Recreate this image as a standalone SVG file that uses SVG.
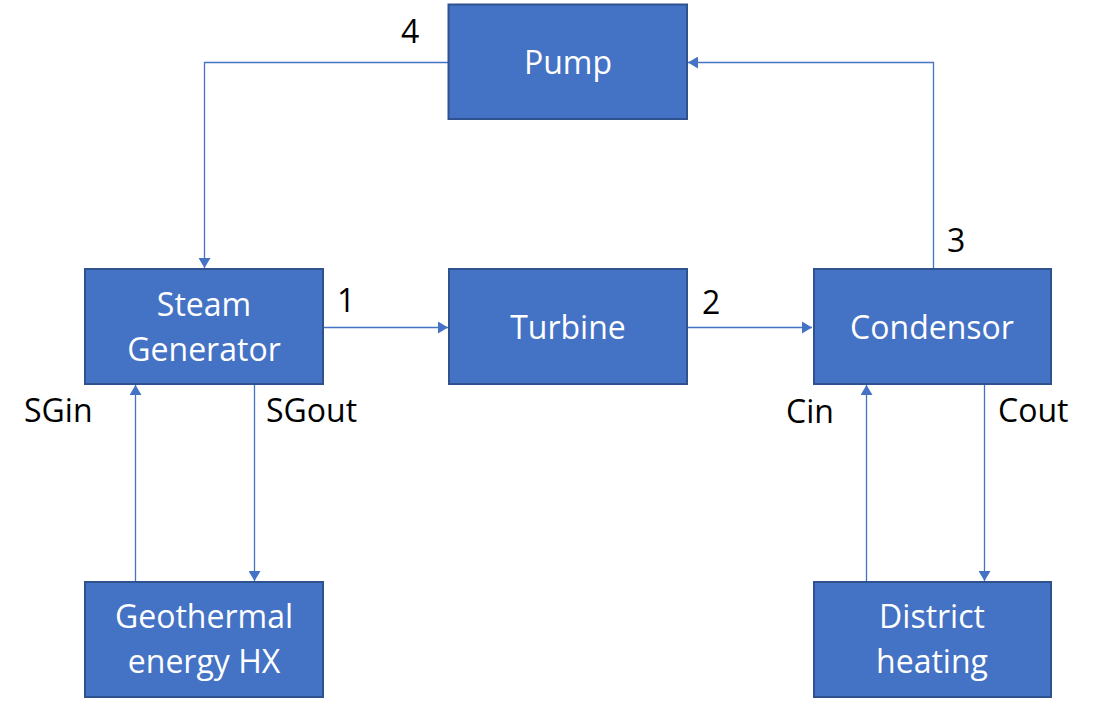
<svg xmlns="http://www.w3.org/2000/svg" width="1104" height="707" viewBox="0 0 1104 707">
<style>
.node rect{fill:#4472C4;stroke:#2F528F;stroke-width:2}
.node text{fill:#ffffff;font-family:"Open Sans","Noto Sans",sans-serif;font-size:32px;text-anchor:middle}
.lbl{fill:#000000;font-family:"Open Sans","Noto Sans",sans-serif;font-size:32px}
.conn path{fill:none;stroke:#4472C4;stroke-width:1.3;marker-end:url(#arr)}
</style>
<defs>
<marker id="arr" markerUnits="userSpaceOnUse" markerWidth="10" markerHeight="12" refX="10" refY="6" orient="auto">
<path d="M0,0 L10,6 L0,12 z" fill="#4472C4"/>
</marker>
</defs>
<rect width="1104" height="707" fill="#ffffff"/>
<g id="connectors" class="conn">
<path d="M448,62.5 H204.5 V268"/>
<path d="M933.5,268 V62.5 H688"/>
<path d="M323,327.5 H448"/>
<path d="M687,327.5 H812"/>
<path d="M254.5,385 V581"/>
<path d="M135.5,581 V385"/>
<path d="M984.5,385 V581"/>
<path d="M866.5,581 V385"/>
</g>
<g id="pump" class="node"><rect x="448.5" y="4.5" width="238.5" height="114.5"/><text x="568" y="74">Pump</text></g>
<g id="steam-generator" class="node"><rect x="85" y="269" width="238" height="115"/><text x="204" y="316">Steam</text><text x="204" y="361">Generator</text></g>
<g id="turbine" class="node"><rect x="449" y="269" width="238" height="115"/><text x="568" y="339">Turbine</text></g>
<g id="condensor" class="node"><rect x="814" y="269" width="237" height="115"/><text x="932" y="339">Condensor</text></g>
<g id="geothermal" class="node"><rect x="85" y="582" width="238" height="115"/><text x="204" y="628">Geothermal</text><text x="204" y="673">energy HX</text></g>
<g id="district-heating" class="node"><rect x="814" y="582" width="237" height="115"/><text x="932" y="628">District</text><text x="932" y="673">heating</text></g>
<g id="labels">
<text class="lbl" x="401" y="43">4</text>
<text class="lbl" x="337" y="312">1</text>
<text class="lbl" x="702" y="314">2</text>
<text class="lbl" x="947" y="252">3</text>
<text class="lbl" x="24" y="422">SGin</text>
<text class="lbl" x="266" y="422">SGout</text>
<text class="lbl" x="786" y="423">Cin</text>
<text class="lbl" x="998" y="422">Cout</text>
</g>
</svg>
